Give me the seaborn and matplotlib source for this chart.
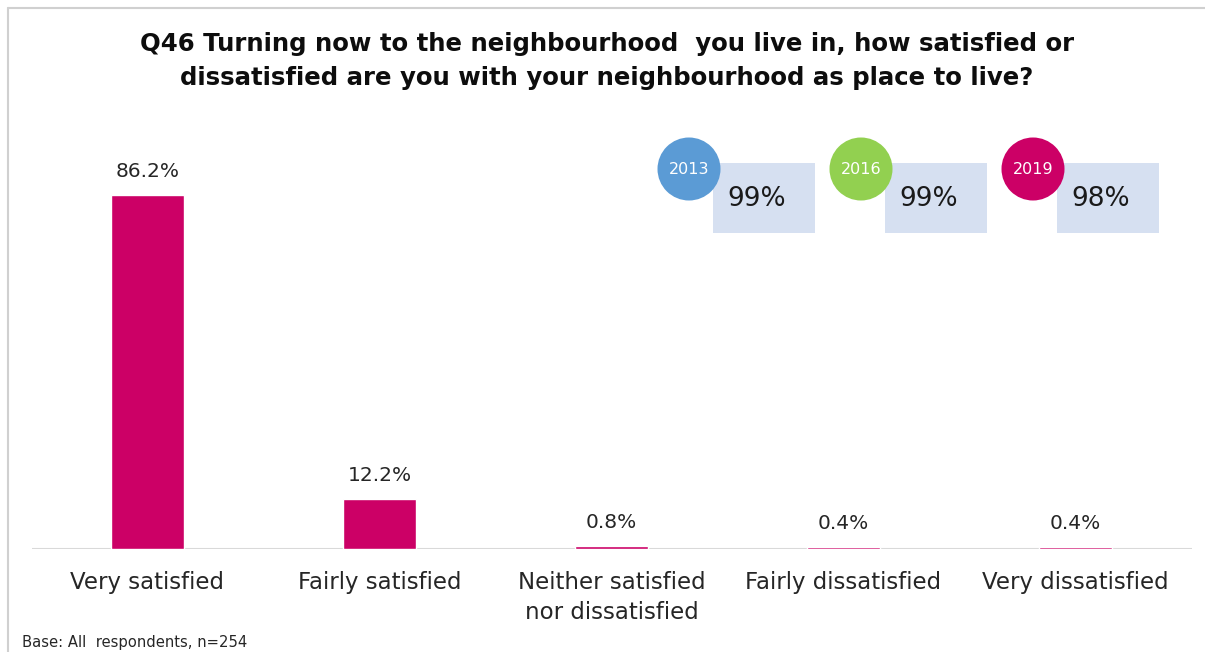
import matplotlib
matplotlib.use("Agg")
import matplotlib.pyplot as plt
from matplotlib.patches import Circle, Rectangle
import seaborn as sns
import pandas as pd

# Survey responses
categories = ["Very satisfied", "Fairly satisfied", "Neither satisfied\nnor dissatisfied",
              "Fairly dissatisfied", "Very dissatisfied"]
values = [86.2, 12.2, 0.8, 0.4, 0.4]

# Overall satisfaction by survey year
years = ["2013", "2016", "2019"]
year_totals = ["99%", "99%", "98%"]
year_colors = ["#5B9BD5", "#92D050", "#CC0066"]

title = ("Q46 Turning now to the neighbourhood  you live in, how satisfied or\n"
         "dissatisfied are you with your neighbourhood as place to live?")
base_note = "Base: All  respondents, n=254"

BAR = "#CC0066"
TEXT = "#262626"

sns.set_theme(style="white")
plt.rcParams["font.family"] = ["DejaVu Sans"]

W, H = 1205, 652
fig = plt.figure(figsize=(W / 100, H / 100), dpi=100)

df = pd.DataFrame({"category": categories, "value": values})

ax = fig.add_axes([31.5 / W, (H - 549) / H, 1160 / W, 410.7 / H])
sns.barplot(data=df, x="category", y="value", color=BAR, saturation=1,
            width=0.315, ax=ax)
ax.set_xlim(-0.5, len(categories) - 0.5)
ax.set_ylim(0, 100)
for c in ax.containers:
    ax.bar_label(c, labels=[f"{v:.1f}%" for v in values], padding=10,
                 fontsize=14.5, color=TEXT)
ax.axhline(0, color="#D9D9D9", lw=1.5, zorder=0)
sns.despine(ax=ax, left=True, bottom=True)
ax.set_yticks([])
ax.set_xlabel("")
ax.set_ylabel("")
ax.tick_params(axis="x", length=0, pad=16, labelsize=16.5, colors=TEXT)
for lbl in ax.get_xticklabels():
    lbl.set_linespacing(1.35)
    lbl.set_verticalalignment("top")

# Overlay in pixel units for frame, title and year badges
ov = fig.add_axes([0, 0, 1, 1], zorder=5)
ov.set_xlim(0, W)
ov.set_ylim(H, 0)
ov.axis("off")
ov.patch.set_alpha(0)

ov.plot([7.5, W], [7.5, 7.5], color="#D0D0D0", lw=1.5)
ov.plot([7.5, 7.5], [7.5, H], color="#D0D0D0", lw=1.5)

ov.text(607, 61, title, ha="center", va="center", fontsize=17.6,
        fontweight="bold", color="#0D0D0D", linespacing=1.56)

circle_x = [689, 861, 1033]
for cx, yr, tot, col in zip(circle_x, years, year_totals, year_colors):
    ov.add_patch(Rectangle((cx + 24, 163), 102, 70, facecolor="#D6E0F1",
                           edgecolor="none", zorder=1))
    ov.add_patch(Circle((cx, 169), 31.5, facecolor=col, edgecolor="none", zorder=2))
    ov.text(cx, 169, yr, ha="center", va="center", fontsize=11.5,
            color="white", zorder=3)
    ov.text(cx + 68, 199, tot, ha="center", va="center", fontsize=19,
            color="#1A1A1A", zorder=3)

ov.text(22, 643, base_note, ha="left", va="center", fontsize=10.6, color=TEXT)

fig.savefig("out.png", dpi=100)
